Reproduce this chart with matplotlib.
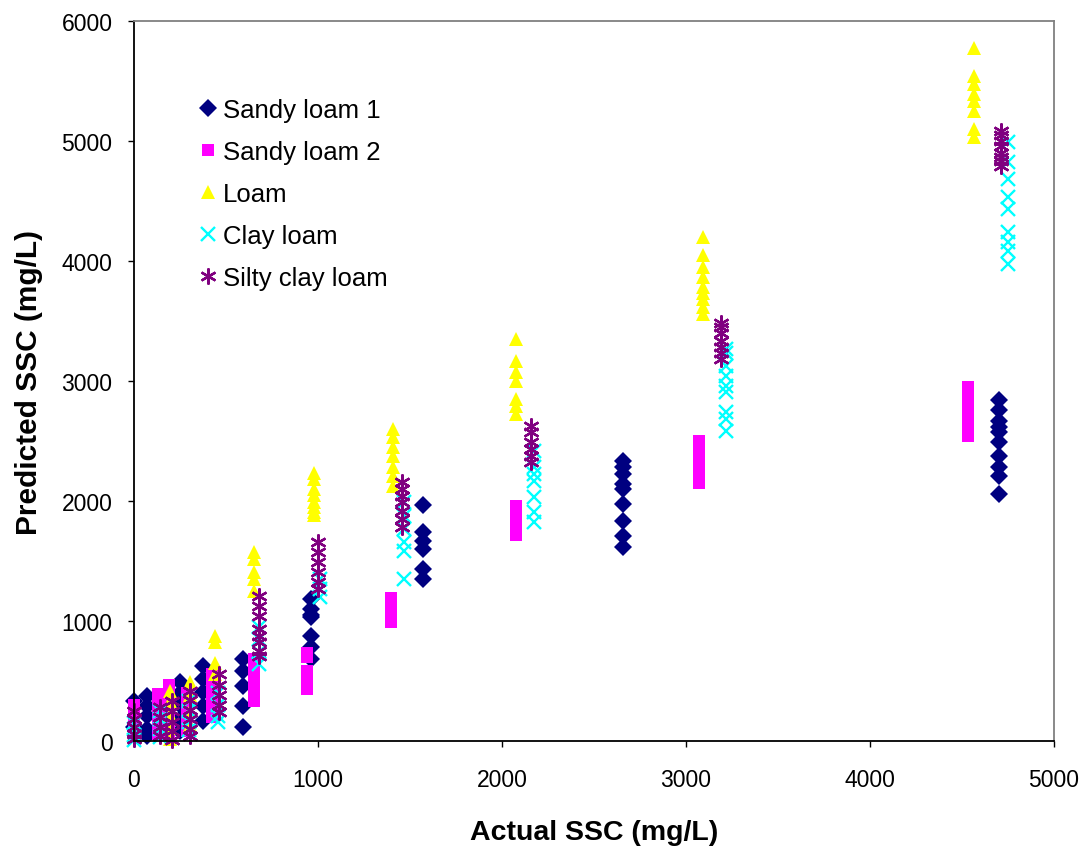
import numpy as np
import matplotlib
matplotlib.use("Agg")
import matplotlib.pyplot as plt

# --- データ（実測SSC の列ごとに予測値をまとめる） ---
SL1_X = [0, 70, 250, 375, 590, 960, 1570, 2660, 4700]
SL1_Y = [[330, 120],
         [375, 290, 210, 100, 40],
         [490, 400, 300, 180, 80],
         [625, 517, 408, 292, 167],
         [683, 583, 458, 292, 117],
         [1183, 1100, 1050, 1033, 878, 783, 683],
         [1967, 1742, 1669, 1600, 1433, 1350],
         [2336, 2283, 2225, 2142, 2100, 1975, 1836, 1711, 1617],
         [2842, 2758, 2669, 2617, 2575, 2492, 2378, 2283, 2211, 2058]]

SL2_X = [0, 130, 190, 290, 425, 650, 940, 940, 1395, 2075, 3070, 4530]
SL2_Y = [[300, 240, 180, 120, 60],
         [390, 300, 220, 140, 60],
         [470, 380, 290, 200, 110, 40],
         [400, 320, 240, 160, 80],
         [560, 470, 380, 290, 200],
         [680, 600, 520, 440, 380, 330],
         [730, 700],
         [580, 540, 500, 460, 430],
         [1190, 1150, 1110, 1070, 1030, 990],
         [1960, 1920, 1880, 1840, 1800, 1760, 1720],
         [2500, 2460, 2420, 2380, 2340, 2300, 2260, 2200, 2150],
         [2950, 2900, 2850, 2800, 2750, 2700, 2650, 2600, 2540]]

LOAM_X = [195, 305, 440, 650, 980, 1405, 2075, 3090, 4565]
LOAM_Y = [[420, 330, 220, 110, 20],
          [490, 380, 250, 130],
          [875, 825, 650, 560],
          [1575, 1517, 1408, 1350, 1250],
          [2230, 2180, 2100, 2050, 1990, 1950, 1910, 1880],
          [2600, 2533, 2450, 2378, 2283, 2211, 2128],
          [3350, 3169, 3075, 3003, 2850, 2794, 2725],
          [4200, 4050, 3950, 3870, 3780, 3730, 3680, 3620, 3560],
          [5775, 5544, 5475, 5392, 5336, 5253, 5100, 5033]]

CLAY_X = [0, 140, 300, 455, 680, 1010, 1470, 2175, 3220, 4750]
CLAY_Y = [[150, 100, 50, 10],
          [250, 180, 100, 30],
          [330, 250, 160, 90],
          [400, 300, 208, 158],
          [950, 850, 742, 642],
          [1350, 1267, 1200],
          [1992, 1878, 1767, 1658, 1586, 1350],
          [2420, 2283, 2225, 2169, 2033, 1908, 1825],
          [3270, 3230, 3127, 3044, 2961, 2908, 2742, 2683, 2586],
          [4990, 4825, 4683, 4533, 4433, 4242, 4158, 4083, 3975]]

SILTY_X = [0, 140, 205, 305, 460, 680, 1000, 1455, 2160, 3190, 4710]
SILTY_Y = [[250, 180, 120, 60, 20],
           [280, 200, 120, 40],
           [330, 250, 160, 80, 10],
           [420, 340, 260, 180, 100, 40],
           [560, 470, 380, 300, 240],
           [1208, 1125, 1042, 933, 875, 825, 750, 708],
           [1658, 1575, 1492, 1408, 1325, 1267],
           [2158, 2100, 2044, 1992, 1919, 1850, 1783],
           [2628, 2575, 2490, 2433, 2378, 2325],
           [3480, 3450, 3400, 3330, 3280, 3230, 3180],
           [5080, 5050, 5000, 4960, 4900, 4870, 4830, 4790]]

LABELS = ["Sandy loam 1", "Sandy loam 2", "Loam", "Clay loam", "Silty clay loam"]


def expand(xs, ys):
    # 列ごとのデータを点の並びに展開
    px, py = [], []
    for x, col in zip(xs, ys):
        px += [x] * len(col)
        py += col
    return np.array(px), np.array(py)


plt.rcParams['font.family'] = ['Liberation Sans', 'DejaVu Sans']

fig = plt.figure(figsize=(10.91, 8.54), dpi=100)
ax = fig.add_axes([0.1228, 0.1311, 0.8433, 0.8431])

series = [
    (SL1_X, SL1_Y, dict(marker='D', color='#000080', ms=9.3, mew=0)),
    (SL2_X, SL2_Y, dict(marker='s', color='#FF00FF', ms=8.5, mew=0)),
    (LOAM_X, LOAM_Y, dict(marker='^', color='#FFFF00', ms=10, mew=0)),
    (CLAY_X, CLAY_Y, dict(marker='x', color='#00FFFF', ms=10, mew=1.7)),
    (SILTY_X, SILTY_Y, dict(marker=(6, 2, 0), color='#800080', ms=11.5, mew=1.7)),
]
for (xs, ys, st), lab in zip(series, LABELS):
    x, y = expand(xs, ys)
    ax.plot(x, y, linestyle='none', label=lab, clip_on=False, **st)

ax.set_xlim(0, 5000)
ax.set_ylim(0, 6000)
ax.set_xticks(np.arange(0, 5001, 1000))
ax.set_yticks(np.arange(0, 6001, 1000))
ax.tick_params(axis='x', direction='out', length=4.5, width=1, pad=15, labelsize=16.5)
ax.tick_params(axis='y', direction='out', length=4.5, width=1, pad=11, labelsize=16.5)

ax.spines['left'].set_color('black')
ax.spines['bottom'].set_color('black')
ax.spines['top'].set_color('#808080')
ax.spines['right'].set_color('#808080')
for s in ax.spines.values():
    s.set_linewidth(1.3)

ax.set_xlabel('Actual SSC (mg/L)', fontsize=20.5, fontweight='bold', labelpad=20)
ax.set_ylabel('Predicted SSC (mg/L)', fontsize=21.5, fontweight='bold', labelpad=13)

ax.legend(loc='upper left', bbox_to_anchor=(0.062, 0.907), frameon=False,
          fontsize=18.5, handlelength=0.55, handletextpad=0.3, labelspacing=0.7,
          borderaxespad=0)

fig.savefig('out.png', dpi=100)
